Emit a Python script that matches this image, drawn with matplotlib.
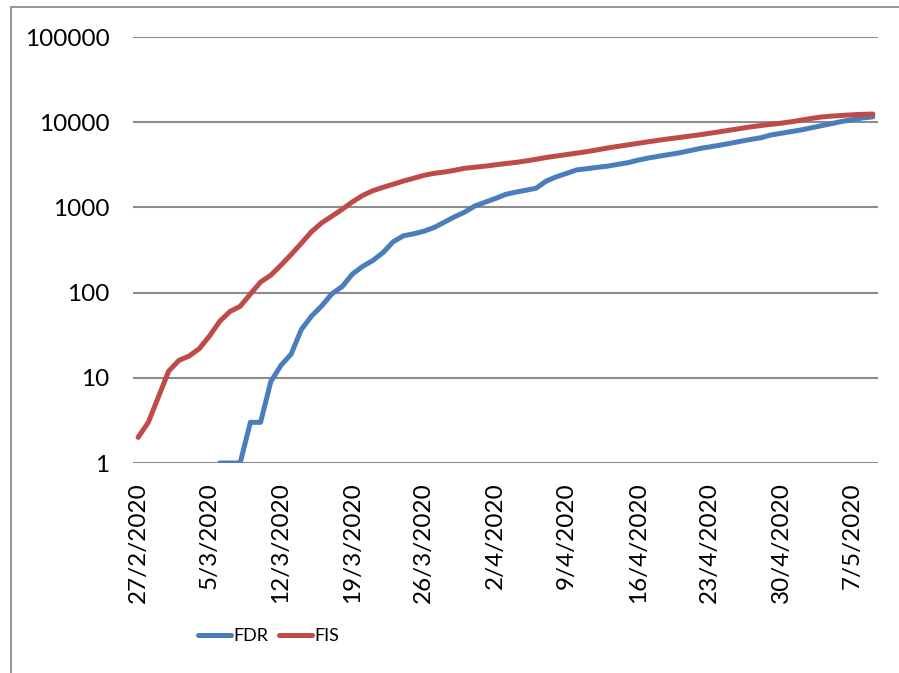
import numpy as np
import pandas as pd
import matplotlib
matplotlib.use('Agg')
import matplotlib.pyplot as plt
from matplotlib.patches import Rectangle

# daily values, 27/2/2020 .. 9/5/2020
dates = pd.date_range('2020-02-27', '2020-05-09', freq='D')

fdr = [np.nan] * 8 + [
    1, 1, 1, 3, 3, 9, 14, 19, 37, 53,
    70, 97, 118, 165, 203, 238, 295, 395, 465, 490,
    525, 580, 670, 775, 880, 1040, 1150, 1270, 1420, 1510,
    1590, 1680, 2040, 2290, 2510, 2760, 2850, 2950, 3050, 3200,
    3350, 3590, 3800, 3980, 4170, 4360, 4620, 4900, 5130, 5370,
    5650, 5960, 6270, 6560, 7080, 7410, 7760, 8130, 8610, 9120,
    9660, 10230, 10720, 11220, 11560]

fis = [
    2, 3, 6, 12, 16, 18, 22, 31, 46, 60,
    69, 96, 133, 160, 210, 280, 380, 520, 660, 790,
    950, 1160, 1380, 1570, 1720, 1870, 2040, 2200, 2380, 2510,
    2600, 2725, 2880, 2960, 3050, 3160, 3270, 3370, 3510, 3670,
    3860, 4010, 4170, 4340, 4520, 4740, 4980, 5200, 5420, 5650,
    5900, 6140, 6380, 6610, 6855, 7110, 7410, 7730, 8070, 8430,
    8810, 9120, 9440, 9730, 10120, 10590, 11090, 11530, 11800, 12020,
    12220, 12360, 12470]

plt.rcParams['font.family'] = ['Lato', 'DejaVu Sans']

fig = plt.figure(figsize=(8.99, 6.73), dpi=100)
ax = fig.add_axes([133 / 899, 1 - 463 / 673, 745 / 899, 426 / 673])

# outer chart border
fig.patches.append(Rectangle((11 / 899, -0.05), 1.1, 1 - 7 / 673 + 0.05,
                             transform=fig.transFigure, fill=False,
                             edgecolor='#8c8c8c', linewidth=1.3))

ax.plot(dates, fdr, color='#4a7ebb', linewidth=3.6, label='FDR',
        solid_capstyle='round', solid_joinstyle='round')
ax.plot(dates, fis, color='#be4b48', linewidth=3.6, label='FIS',
        solid_capstyle='round', solid_joinstyle='round')

ax.set_yscale('log')
ax.set_ylim(1, 100000)
ax.set_yticks([1, 10, 100, 1000, 10000, 100000])
ax.set_yticklabels(['1', '10', '100', '1000', '10000', '100000'])
ax.yaxis.set_minor_locator(matplotlib.ticker.NullLocator())

ax.set_xlim(dates[0] - pd.Timedelta(hours=12), dates[-1] + pd.Timedelta(hours=12))
ticks = dates[::7]
ax.set_xticks(ticks)
ax.set_xticklabels([f'{d.day}/{d.month}/{d.year}' for d in ticks], rotation=90)

ax.grid(axis='y', color='#8c8c8c', linewidth=1.5)
ax.set_axisbelow(True)
for s in ax.spines.values():
    s.set_visible(False)
ax.tick_params(axis='both', length=0, labelsize=17.5)
ax.tick_params(axis='y', pad=17)
ax.tick_params(axis='x', pad=14)

fig.legend(loc='center', bbox_to_anchor=(269 / 899, 1 - 636 / 673), ncol=2,
           frameon=False, fontsize=13, handlelength=1.8, handletextpad=0.15,
           columnspacing=0.6)

fig.savefig('out.png', dpi=100)
